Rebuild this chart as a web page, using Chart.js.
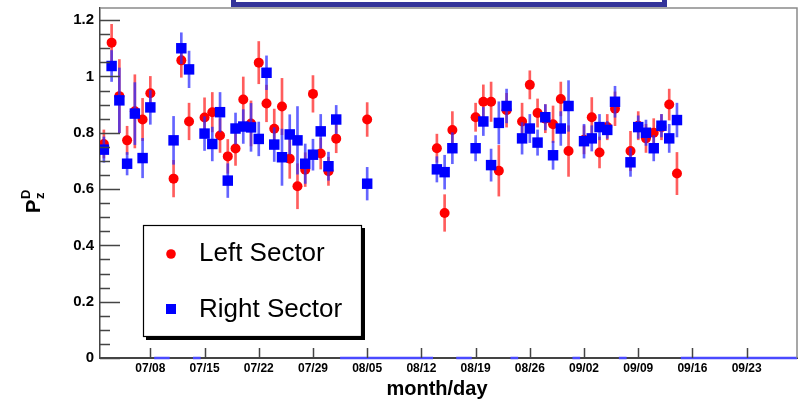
<!DOCTYPE html>
<html>
<head>
<meta charset="utf-8">
<script src="https://cdn.jsdelivr.net/npm/chart.js@4.4.1/dist/chart.umd.min.js"></script>
<style>
  html, body { margin: 0; padding: 0; background: #fff; }
  canvas { display: block; }
</style>
</head>
<body>
<canvas id="chart" width="798" height="399"></canvas>
<script>
// day of run, counted from July 1st (one bin per day)
const days = [1, 2, 3, 4, 5, 6, 7, 10, 11, 12,
  14, 15, 16, 17, 18, 19, 20, 21, 22, 23, 24, 25, 26, 27, 28, 29, 30, 31,
  35, 44, 45, 46, 49, 50, 51, 52, 53,
  55, 56, 57, 58, 59, 60, 61, 63, 64, 65, 66, 67,
  69, 70, 71, 72, 73, 74, 75];

const leftPol = [0.76, 1.12, 0.93, 0.773, 0.876, 0.847, 0.94, 0.637, 1.057, 0.84,
  0.854, 0.873, 0.79, 0.716, 0.744, 0.918, 0.833, 1.049, 0.904, 0.814, 0.893, 0.708, 0.61, 0.669, 0.938, 0.726, 0.663, 0.779,
  0.847, 0.745, 0.515, 0.81, 0.855, 0.91, 0.91, 0.665, 0.88,
  0.84, 0.97, 0.87, 0.85, 0.83, 0.92, 0.735, 0.775, 0.855, 0.73, 0.82, 0.885,
  0.735, 0.825, 0.78, 0.80, 0.82, 0.90, 0.655];
const leftErr = [0.05, 0.065, 0.13, 0.05, 0.13, 0.075, 0.06, 0.065, 0.06, 0.065,
  0.07, 0.07, 0.06, 0.06, 0.06, 0.08, 0.08, 0.075, 0.065, 0.07, 0.1, 0.07, 0.08, 0.06, 0.065, 0.055, 0.05, 0.05,
  0.06, 0.05, 0.065, 0.065, 0.05, 0.06, 0.07, 0.09, 0.06,
  0.065, 0.05, 0.05, 0.05, 0.065, 0.06, 0.09, 0.05, 0.07, 0.055, 0.045, 0.06,
  0.07, 0.05, 0.05, 0.05, 0.045, 0.055, 0.075];

const rightPol = [0.74, 1.037, 0.915, 0.69, 0.868, 0.71, 0.89, 0.773, 1.10, 1.025,
  0.797, 0.76, 0.873, 0.63, 0.815, 0.822, 0.819, 0.778, 1.013, 0.758, 0.713, 0.794, 0.773, 0.69, 0.722, 0.805, 0.681, 0.847,
  0.619, 0.67, 0.66, 0.745, 0.745, 0.84, 0.685, 0.835, 0.895,
  0.78, 0.815, 0.765, 0.855, 0.72, 0.815, 0.895, 0.77, 0.78, 0.82, 0.81, 0.91,
  0.695, 0.82, 0.80, 0.745, 0.825, 0.78, 0.845];
const rightErr = [0.045, 0.055, 0.115, 0.04, 0.11, 0.07, 0.06, 0.085, 0.055, 0.065,
  0.06, 0.06, 0.07, 0.06, 0.055, 0.06, 0.085, 0.06, 0.06, 0.06, 0.1, 0.07, 0.12, 0.07, 0.055, 0.06, 0.05, 0.05,
  0.058, 0.045, 0.06, 0.055, 0.045, 0.05, 0.057, 0.075, 0.06,
  0.056, 0.05, 0.045, 0.045, 0.05, 0.06, 0.09, 0.06, 0.045, 0.045, 0.03, 0.055,
  0.05, 0.04, 0.045, 0.045, 0.04, 0.05, 0.06];

// empty bins show up as pieces of line along zero
const emptyFrom = [7.5, 12.5, 31.5, 46.5, 53.5, 61.5, 67.5, 75.5];
const emptyTo = [9.5, 13.5, 43.5, 48.5, 54.5, 62.5, 68.5, 90.5];

const xTickDays = [7, 14, 21, 28, 35, 42, 49, 56, 63, 70, 77, 84];
const xTickLabels = ['07/08', '07/15', '07/22', '07/29', '08/05', '08/12', '08/19', '08/26', '09/02', '09/09', '09/16', '09/23'];
const yTickValues = [0, 0.2, 0.4, 0.6, 0.8, 1, 1.2];
const yTickLabels = ['0', '0.2', '0.4', '0.6', '0.8', '1', '1.2'];

const FONT = "'Liberation Sans', Arial, Helvetica, sans-serif";

const errBars = (vals, errs) => days.map((d, i) => ({ x: d, y: [vals[i] - errs[i], vals[i] + errs[i]] }));
const points = (vals) => days.map((d, i) => ({ x: d, y: vals[i] }));

const emptyLine = [];
emptyFrom.forEach((a, i) => {
  emptyLine.push({ x: a, y: 0 }, { x: emptyTo[i], y: 0 }, { x: emptyTo[i], y: null });
});

// ROOT-like frame, inward ticks, legend and titles
const rootStyle = {
  id: 'rootStyle',
  afterDatasetsDraw(chart) {
    const { ctx, chartArea: a, scales: { x, y } } = chart;
    ctx.save();
    ctx.strokeStyle = '#8a8a8a';
    ctx.lineWidth = 1.5;
    ctx.beginPath();
    ctx.moveTo(a.left, a.top);
    ctx.lineTo(a.right, a.top);
    ctx.lineTo(a.right, a.bottom);
    ctx.stroke();

    ctx.strokeStyle = '#444';
    ctx.lineWidth = 1.5;
    ctx.beginPath();
    for (let k = 0; k * 0.05 <= y.max + 1e-9; k++) {
      const py = Math.round(y.getPixelForValue(k * 0.05)) + 0.5;
      const len = k % 4 === 0 ? 20 : 10;
      ctx.moveTo(a.left, py);
      ctx.lineTo(a.left + len, py);
    }
    xTickDays.forEach(d => {
      const px = Math.round(x.getPixelForValue(d)) + 0.5;
      ctx.moveTo(px, a.bottom);
      ctx.lineTo(px, a.bottom - 10);
    });
    ctx.stroke();
    ctx.restore();
  },
  afterDraw(chart) {
    const { ctx } = chart;
    const ds = chart.data.datasets;
    ctx.save();

    // title box, cut off at the top
    ctx.fillStyle = '#fff';
    ctx.fillRect(231, 0, 436, 7);
    ctx.strokeStyle = '#333399';
    ctx.lineWidth = 5;
    ctx.strokeRect(233.5, -10, 431, 14.5);

    // legend with shadow
    ctx.fillStyle = '#000';
    ctx.fillRect(146, 228, 219, 112);
    ctx.fillStyle = '#fff';
    ctx.fillRect(143, 225, 219, 112);
    ctx.strokeStyle = '#000';
    ctx.lineWidth = 1.2;
    ctx.strokeRect(143.5, 225.5, 218, 111);

    const left = ds.find(d => d.label === 'Left Sector');
    const right = ds.find(d => d.label === 'Right Sector');
    ctx.fillStyle = left.backgroundColor;
    ctx.beginPath();
    ctx.arc(171, 254, 4.8, 0, Math.PI * 2);
    ctx.fill();
    ctx.fillStyle = right.backgroundColor;
    ctx.fillRect(166, 304, 10, 10);

    ctx.fillStyle = '#000';
    ctx.font = '26px ' + FONT;
    ctx.textBaseline = 'middle';
    ctx.textAlign = 'left';
    ctx.fillText(left.label, 199, 254);
    ctx.fillText(right.label, 199, 310);

    // x title
    ctx.font = 'bold 20px ' + FONT;
    ctx.textAlign = 'center';
    ctx.textBaseline = 'alphabetic';
    ctx.fillText('month/day', 437, 395);

    // y title P_z^D
    ctx.translate(40, 213);
    ctx.rotate(-Math.PI / 2);
    ctx.textAlign = 'left';
    ctx.font = 'bold 20px ' + FONT;
    ctx.fillText('P', 0, 0);
    ctx.font = 'bold 13px ' + FONT;
    ctx.fillText('D', 14, -10);
    ctx.fillText('z', 14, 4);
    ctx.restore();
  }
};

new Chart(document.getElementById('chart'), {
  type: 'scatter',
  data: {
    datasets: [
      {
        label: 'Right Sector',
        data: points(rightPol),
        pointStyle: 'rect',
        pointRadius: 7.4,
        backgroundColor: '#0000ff',
        borderWidth: 0,
        order: 0
      },
      {
        type: 'bar',
        label: 'Right error',
        data: errBars(rightPol, rightErr),
        backgroundColor: 'rgba(40, 40, 255, 0.72)',
        barThickness: 2,
        grouped: false,
        order: 1
      },
      {
        label: 'Left Sector',
        data: points(leftPol),
        pointStyle: 'circle',
        pointRadius: 5,
        backgroundColor: '#ff0000',
        borderWidth: 0,
        order: 2
      },
      {
        type: 'bar',
        label: 'Left error',
        data: errBars(leftPol, leftErr),
        backgroundColor: 'rgba(255, 30, 30, 0.72)',
        barThickness: 2,
        grouped: false,
        order: 3
      },
      {
        type: 'line',
        label: 'empty',
        data: emptyLine,
        borderColor: '#4a4aff',
        borderWidth: 2.5,
        pointRadius: 0,
        spanGaps: false,
        clip: false,
        order: 4
      }
    ]
  },
  options: {
    responsive: false,
    animation: false,
    layout: { autoPadding: false, padding: { top: 8, right: 1, left: 0, bottom: 0 } },
    plugins: { legend: { display: false }, tooltip: { enabled: false } },
    scales: {
      x: {
        type: 'linear',
        min: 0.5,
        max: 90.5,
        offset: false,
        grid: { display: false, drawTicks: false },
        border: { display: true, color: '#444', width: 2 },
        afterBuildTicks: s => { s.ticks = xTickDays.map(v => ({ value: v })); },
        afterFit: s => { s.height = 41; s.paddingLeft = 0; s.paddingRight = 0; },
        ticks: {
          autoSkip: false,
          maxRotation: 0,
          padding: 3,
          color: '#000',
          font: { family: FONT, size: 12, weight: 'bold' },
          callback: v => xTickLabels[xTickDays.indexOf(v)] ?? ''
        }
      },
      y: {
        min: 0,
        max: 1.243,
        grid: { display: false, drawTicks: false },
        border: { display: true, color: '#444', width: 1.5 },
        afterBuildTicks: s => { s.ticks = yTickValues.map(v => ({ value: v })); },
        afterFit: s => { s.width = 100; s.paddingTop = 0; s.paddingBottom = 0; },
        ticks: {
          autoSkip: false,
          padding: 6,
          color: '#000',
          font: { family: FONT, size: 15, weight: 'bold' },
          callback: v => yTickLabels[yTickValues.indexOf(v)] ?? ''
        }
      }
    }
  },
  plugins: [rootStyle]
});
</script>
</body>
</html>
